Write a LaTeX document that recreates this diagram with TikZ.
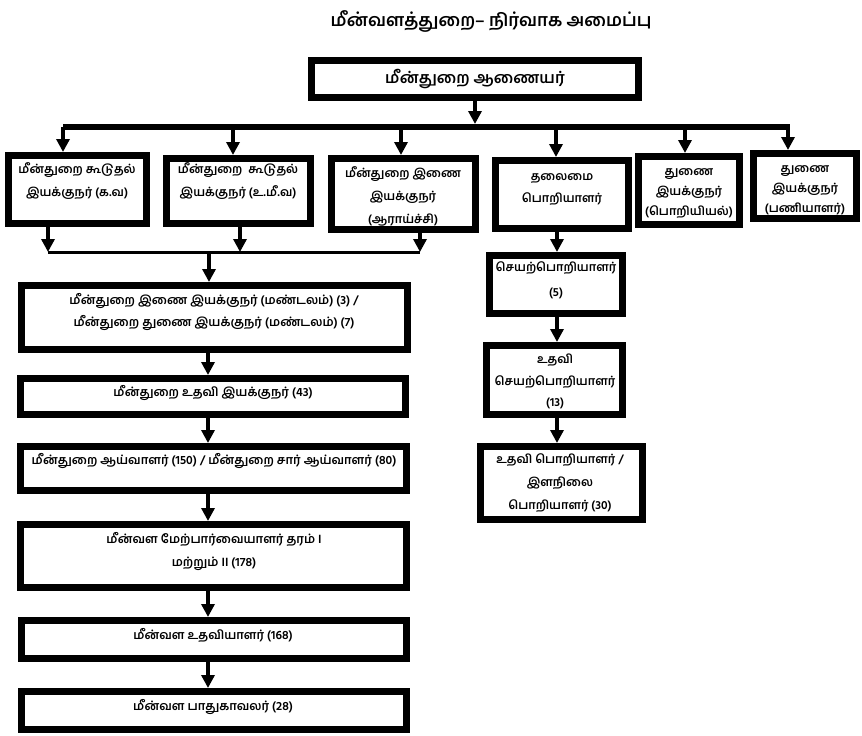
\documentclass[tikz,border=0pt]{standalone}
\usepackage{fontspec}
\newfontfamily\tamil[Script=Tamil]{Hind Madurai}
\usetikzlibrary{arrows.meta,calc}
\tikzset{
  boxst/.style={draw=black, line width=7pt, inner sep=0pt, fill=white},
  arr/.style={draw=black, line width=4pt, -{Triangle[width=13pt,length=13pt]}},
  barst/.style={draw=black, line width=6pt},
  thinbar/.style={draw=black, line width=3pt},
  txt/.style={inner sep=0pt, align=center, text=black},
}
% #1 name, #2 x1, #3 y1, #4 x2, #5 y2
\newcommand{\mkbox}[5]{\node[boxst, minimum width={(#4)-(#2)-7}, minimum height={(#5)-(#3)-7}] (#1) at ({((#2)+(#4))/2},{((#3)+(#5))/2}) {};}
% #1 name, #2 x, #3 y, #4 size, #5 skip, #6 text
\newcommand{\mktxt}[6]{\node[txt, font={\tamil\fontsize{#4}{#5}\selectfont\bfseries}] (#1) at (#2,#3) {#6};}
\begin{document}
\begin{tikzpicture}[x=1pt,y=-1pt]
\useasboundingbox (0,0) rectangle (862,736);
% title
\node[txt, font={\tamil\fontsize{17.5}{22}\selectfont\bfseries}] (ttl) at (491,21) {மீன்வளத்துறை– நிர்வாக அமைப்பு};
% boxes
\mkbox{top}{308}{57}{642}{101}
\mkbox{b1}{5}{152}{150}{227}
\mkbox{b2}{163}{155}{314}{227}
\mkbox{b3}{328}{155}{479}{233}
\mkbox{b4}{492}{157}{632}{232}
\mkbox{b5}{635}{153}{743}{228}
\mkbox{b6}{750}{150}{860}{222}
\mkbox{L1}{18}{282}{411}{353}
\mkbox{L2}{17}{375}{409}{418}
\mkbox{L3}{17}{443}{410}{494}
\mkbox{L4}{17}{521}{410}{591}
\mkbox{L5}{18}{617}{410}{662}
\mkbox{L6}{18}{688}{410}{733}
\mkbox{R1}{486}{252}{626}{317}
\mkbox{R2}{483}{342}{626}{418}
\mkbox{R3}{477}{443}{646}{523}
% texts
\mktxt{ttop}{475}{79}{15.7}{18}{மீன்துறை ஆணையர்}
\mktxt{t1}{77}{181.5}{12}{23}{மீன்துறை கூடுதல்\\இயக்குநர் (க.வ)}
\mktxt{t2}{238}{181.5}{12}{23}{மீன்துறை\ \ கூடுதல்\\இயக்குநர் (உ.மீ.வ)}
\mktxt{t3}{403}{196}{12}{23}{மீன்துறை இணை\\இயக்குநர்\\(ஆராய்ச்சி)}
\mktxt{t4}{562}{189}{12}{22}{தலைமை\\பொறியாளர்}
\mktxt{t5}{689}{193}{12}{20}{துணை\\இயக்குநர்\\(பொறியியல்)}
\mktxt{t6}{805}{190}{12}{20}{துணை\\இயக்குநர்\\(பணியாளர்)}
\mktxt{tL1}{214}{312}{12.2}{22}{மீன்துறை இணை இயக்குநர் (மண்டலம்) (3) /\\மீன்துறை துணை இயக்குநர் (மண்டலம்) (7)}
\mktxt{tL2}{213}{393}{12.2}{22}{மீன்துறை உதவி இயக்குநர் (43)}
\mktxt{tL3}{214}{461}{12.2}{22}{மீன்துறை ஆய்வாளர் (150) / மீன்துறை சார் ஆய்வாளர் (80)}
\mktxt{tL4}{214}{551.5}{12.2}{23}{மீன்வள மேற்பார்வையாளர் தரம் I\\மற்றும் II (178)}
\mktxt{tL5}{213}{635}{12.2}{22}{மீன்வள உதவியாளர் (168)}
\mktxt{tL6}{213}{707}{12.2}{22}{மீன்வள பாதுகாவலர் (28)}
\mktxt{tR1}{556}{280.5}{12}{25}{செயற்பொறியாளர்\\(5)}
\mktxt{tR2}{555}{381.5}{12}{21.5}{உதவி\\செயற்பொறியாளர்\\(13)}
\mktxt{tR3}{560}{483}{12}{23}{உதவி பொறியாளர் /\\இளநிலை\\பொறியாளர் (30)}
% top bar
\coordinate (barL) at (63,127);
\coordinate (barR) at (790,127);
\coordinate (bt) at (475,124);
\draw[barst] (barL) -- (barR);
\draw[arr] (top.south -| bt) -- (bt);
\coordinate (a1) at (63,127);
\coordinate (a2) at (233,127);
\coordinate (a3) at (401,127);
\coordinate (a4) at (556,127);
\coordinate (a5) at (685,127);
\coordinate (a6) at (788,127);
\draw[arr] (a1) -- (a1 |- b1.north);
\draw[arr] (a2) -- (a2 |- b2.north);
\draw[arr] (a3) -- (a3 |- b3.north);
\draw[arr] (a4) -- (a4 |- b4.north);
\draw[arr] (a5) -- (a5 |- b5.north);
\draw[arr] (a6) -- (a6 |- b6.north);
% merge line
\coordinate (jl) at (48,252);
\coordinate (jm) at (240,252);
\coordinate (jr) at (420,252);
\coordinate (jd) at (209,252);
\draw[thinbar] (jl) -- (jr);
\draw[arr] (b1.south -| jl) -- (jl);
\draw[arr] (b2.south -| jm) -- (jm);
\draw[arr] (b3.south -| jr) -- (jr);
\draw[arr] (jd) -- (jd |- L1.north);
% left column
\coordinate (lc) at (208,0);
\draw[arr] (L1.south -| lc) -- (L2.north -| lc);
\draw[arr] (L2.south -| lc) -- (L3.north -| lc);
\draw[arr] (L3.south -| lc) -- (L4.north -| lc);
\draw[arr] (L4.south -| lc) -- (L5.north -| lc);
\draw[arr] (L5.south -| lc) -- (L6.north -| lc);
% right column
\coordinate (rc) at (557,0);
\draw[arr] (b4.south -| rc) -- (R1.north -| rc);
\draw[arr] (R1.south -| rc) -- (R2.north -| rc);
\draw[arr] (R2.south -| rc) -- (R3.north -| rc);
\end{tikzpicture}
\end{document}
